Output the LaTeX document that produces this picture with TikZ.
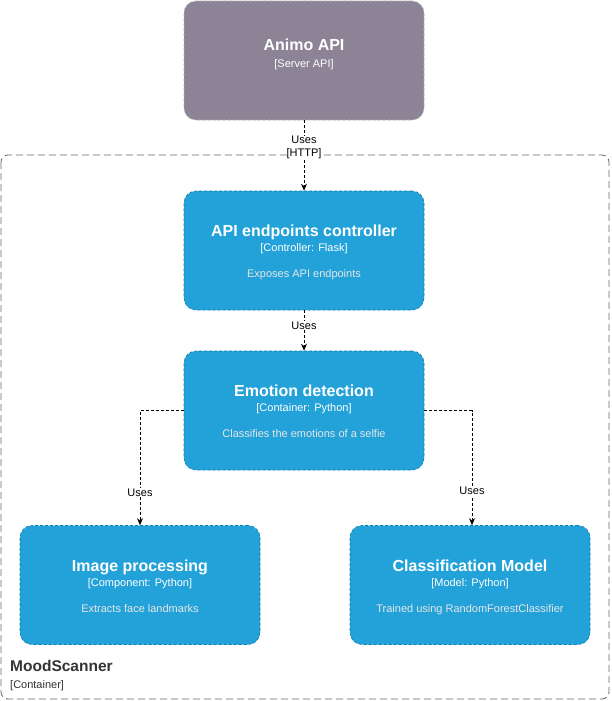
\documentclass[tikz,border=0pt]{standalone}
\usepackage{fontspec}
\setmainfont{Liberation Sans}
\usetikzlibrary{arrows.meta}
\definecolor{sysblue}{HTML}{23A2D9}
\definecolor{sysblueline}{HTML}{0E7DAD}
\definecolor{extgrey}{HTML}{8C8496}
\definecolor{extline}{HTML}{B3B3B3}
\definecolor{desctext}{HTML}{E6E6E6}
\definecolor{bordergrey}{HTML}{666666}
\begin{document}
\begin{tikzpicture}[x=1pt,y=-1pt,
  compbox/.style={draw=sysblueline, densely dashed, line width=0.6pt, fill=sysblue, rounded corners=12pt, minimum width=240pt, minimum height=119pt, inner sep=0pt},
  extbox/.style={compbox, fill=extgrey, draw=extline},
  ttl/.style={text=white, font=\bfseries\fontsize{16}{18}\selectfont, anchor=base},
  tech/.style={text=white, font=\fontsize{11}{13}\selectfont, anchor=base},
  desc/.style={text=desctext, font=\fontsize{11}{13}\selectfont, anchor=base},
  conn/.style={densely dashed, line width=0.7pt, -{Stealth[length=7pt,width=6pt]}},
  lbl/.style={font=\fontsize{11}{13}\selectfont, fill=white, inner sep=1pt}
]
\useasboundingbox (0,0) rectangle (611,701);
% container boundary
\draw[bordergrey, dash pattern=on 7pt off 4pt, line width=0.8pt, rounded corners=7pt] (1,155) rectangle (609,699);
\node[anchor=base west, font=\bfseries\fontsize{15.5}{18}\selectfont, text=black!80, inner sep=0pt] (msname) at (10,671) {MoodScanner};
\node[anchor=base west, font=\fontsize{11}{13}\selectfont, text=black!80, inner sep=0pt] (mstype) at (10,688) {[Container]};

% boxes
\node[extbox] (animo) at (304,60.5) {};
\node[ttl] (animot) at (304,51) {Animo API};
\node[tech] (animos) at (304,67) {[Server API]};

\node[compbox] (api) at (304,250.5) {};
\node[ttl] (apit) at (304,236) {API endpoints controller};
\node[tech] (apis) at (304,251) {[Controller: Flask]};
\node[desc] (apid) at (304,277) {Exposes API endpoints};

\node[compbox] (emo) at (304,410.5) {};
\node[ttl] (emot) at (304,396) {Emotion detection};
\node[tech] (emos) at (304,411) {[Container: Python]};
\node[desc] (emod) at (304,437) {Classifies the emotions of a selfie};

\node[compbox] (img) at (140,585) {};
\node[ttl] (imgt) at (140,571) {Image processing};
\node[tech] (imgs) at (140,586) {[Component: Python]};
\node[desc] (imgd) at (140,612) {Extracts face landmarks};

\node[compbox] (cls) at (470,585) {};
\node[ttl] (clst) at (470,571) {Classification Model};
\node[tech] (clss) at (470,586) {[Model: Python]};
\node[desc] (clsd) at (470,612) {Trained using RandomForestClassifier};

% connectors
\draw[conn] (animo.south) -- node[lbl, pos=0.38, align=center, inner sep=0pt] {Uses\\{}[HTTP]} (api.north);
\draw[conn] (api.south) -- node[lbl, pos=0.38] {Uses} (emo.north);
\draw[conn] (emo.west) -| node[lbl, pos=0.857] {Uses} (img.north);
\draw[conn] (emo.east) -| node[lbl, pos=0.852] {Uses} ([xshift=2pt]cls.north);
\end{tikzpicture}
\end{document}
